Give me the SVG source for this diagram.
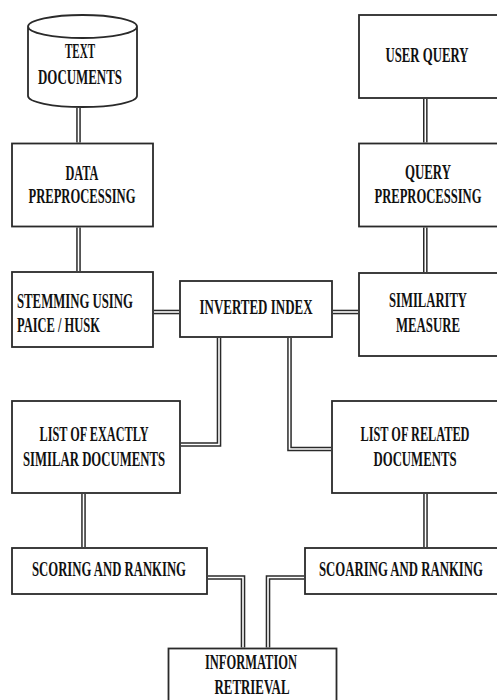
<svg xmlns="http://www.w3.org/2000/svg" xmlns:xlink="http://www.w3.org/1999/xlink" width="497" height="700" viewBox="0 0 497 700">
<style>
.box{fill:#fff;stroke:#2a2a2a;stroke-width:1.8}
.t{font-family:"Liberation Serif","Times New Roman",serif;font-weight:bold;font-size:21px;fill:#111}
.c{text-anchor:middle}
.out{fill:none;stroke:#2a2a2a;stroke-width:4.6;stroke-linejoin:miter}
.in{fill:none;stroke:#fff;stroke-width:1.6;stroke-linejoin:miter}
</style>
<defs>
<path id="p1" d="M78.5,108 V142.5"/>
<path id="p2" d="M78.5,227.5 V271"/>
<path id="p3" d="M425.3,99 V142.5"/>
<path id="p4" d="M425.3,227.5 V272"/>
<path id="p5" d="M154,312 H179"/>
<path id="p6" d="M333,312 H358"/>
<path id="p7" d="M219,338 V444.5 H181"/>
<path id="p8" d="M289.5,338 V449 H331"/>
<path id="p9" d="M83.5,494 V547"/>
<path id="p10" d="M425.5,494 V547"/>
<path id="p11" d="M208,577.5 H243 V647.5"/>
<path id="p12" d="M304,577.5 H268 V647.5"/>
</defs>
<g id="connectors">
<use xlink:href="#p1" class="out"/><use xlink:href="#p1" class="in"/>
<use xlink:href="#p2" class="out"/><use xlink:href="#p2" class="in"/>
<use xlink:href="#p3" class="out"/><use xlink:href="#p3" class="in"/>
<use xlink:href="#p4" class="out"/><use xlink:href="#p4" class="in"/>
<use xlink:href="#p5" class="out"/><use xlink:href="#p5" class="in"/>
<use xlink:href="#p6" class="out"/><use xlink:href="#p6" class="in"/>
<use xlink:href="#p7" class="out"/><use xlink:href="#p7" class="in"/>
<use xlink:href="#p8" class="out"/><use xlink:href="#p8" class="in"/>
<use xlink:href="#p9" class="out"/><use xlink:href="#p9" class="in"/>
<use xlink:href="#p10" class="out"/><use xlink:href="#p10" class="in"/>
<use xlink:href="#p11" class="out"/><use xlink:href="#p11" class="in"/>
<use xlink:href="#p12" class="out"/><use xlink:href="#p12" class="in"/>
</g>
<g id="text-documents">
<path class="box" d="M28,26.5 V96 A54.5,11 0 0 0 137,96 V26.5 A54.5,11.5 0 0 0 28,26.5 A54.5,11.5 0 0 0 137,26.5"/>
<text class="t c" x="80" y="58" textLength="30" lengthAdjust="spacingAndGlyphs">TEXT</text>
<text class="t c" x="80" y="84" textLength="84" lengthAdjust="spacingAndGlyphs">DOCUMENTS</text>
</g>
<g id="data-preprocessing">
<rect class="box" x="12" y="143.5" width="141" height="83"/>
<text class="t c" x="82" y="180" textLength="33" lengthAdjust="spacingAndGlyphs">DATA</text>
<text class="t c" x="82" y="203" textLength="107" lengthAdjust="spacingAndGlyphs">PREPROCESSING</text>
</g>
<g id="user-query">
<rect class="box" x="359" y="15" width="139" height="83"/>
<text class="t c" x="427" y="62" textLength="83" lengthAdjust="spacingAndGlyphs">USER QUERY</text>
</g>
<g id="query-preprocessing">
<rect class="box" x="359" y="143.5" width="139" height="83"/>
<text class="t c" x="428" y="179" textLength="46" lengthAdjust="spacingAndGlyphs">QUERY</text>
<text class="t c" x="428" y="203" textLength="107" lengthAdjust="spacingAndGlyphs">PREPROCESSING</text>
</g>
<g id="stemming">
<rect class="box" x="12" y="272" width="141" height="75"/>
<text class="t" x="17" y="308" textLength="116" lengthAdjust="spacingAndGlyphs">STEMMING USING</text>
<text class="t" x="17" y="332" textLength="83" lengthAdjust="spacingAndGlyphs">PAICE / HUSK</text>
</g>
<g id="inverted-index">
<rect class="box" x="180" y="281" width="152" height="56"/>
<text class="t c" x="256" y="314" textLength="113" lengthAdjust="spacingAndGlyphs">INVERTED INDEX</text>
</g>
<g id="similarity-measure">
<rect class="box" x="359" y="273" width="139" height="83"/>
<text class="t c" x="428" y="307" textLength="78" lengthAdjust="spacingAndGlyphs">SIMILARITY</text>
<text class="t c" x="428" y="332" textLength="64" lengthAdjust="spacingAndGlyphs">MEASURE</text>
</g>
<g id="list-exactly">
<rect class="box" x="12" y="401" width="168" height="92"/>
<text class="t c" x="94" y="441" textLength="109" lengthAdjust="spacingAndGlyphs">LIST OF EXACTLY</text>
<text class="t c" x="94" y="466" textLength="142" lengthAdjust="spacingAndGlyphs">SIMILAR DOCUMENTS</text>
</g>
<g id="list-related">
<rect class="box" x="332" y="401" width="166" height="92"/>
<text class="t c" x="415" y="441" textLength="109" lengthAdjust="spacingAndGlyphs">LIST OF RELATED</text>
<text class="t c" x="415" y="466" textLength="83" lengthAdjust="spacingAndGlyphs">DOCUMENTS</text>
</g>
<g id="scoring-left">
<rect class="box" x="12" y="548" width="195" height="46"/>
<text class="t c" x="109" y="576" textLength="154" lengthAdjust="spacingAndGlyphs">SCORING AND RANKING</text>
</g>
<g id="scoaring-right">
<rect class="box" x="305" y="548" width="193" height="46"/>
<text class="t c" x="401" y="576" textLength="164" lengthAdjust="spacingAndGlyphs">SCOARING AND RANKING</text>
</g>
<g id="information-retrieval">
<rect class="box" x="168.5" y="648.5" width="168" height="60"/>
<text class="t c" x="251" y="669" textLength="92" lengthAdjust="spacingAndGlyphs">INFORMATION</text>
<text class="t c" x="252" y="694" textLength="75" lengthAdjust="spacingAndGlyphs">RETRIEVAL</text>
</g>
</svg>
